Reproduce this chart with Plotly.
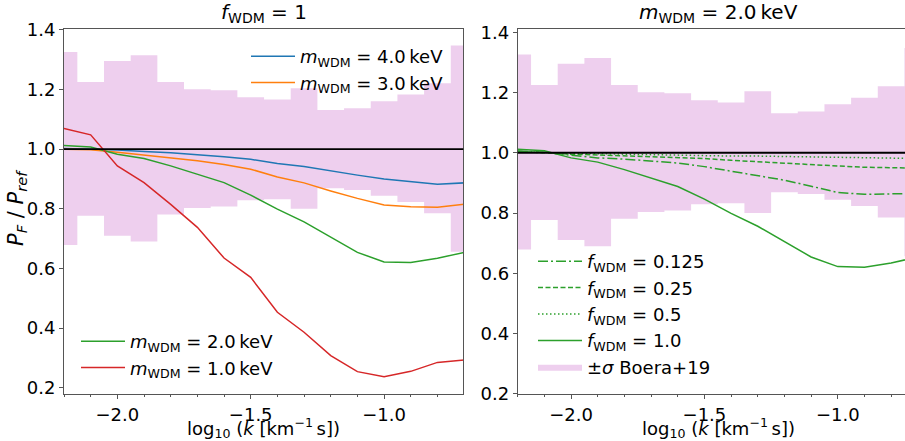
import plotly.graph_objects as go

# ---------------- data ----------------
log_k = [-2.2, -2.1, -2.0, -1.9, -1.8, -1.7, -1.6, -1.5, -1.4, -1.3, -1.2, -1.1, -1.0, -0.9, -0.8, -0.7]

# left panel: f_WDM = 1, various masses
ratio_m4 = [1.002, 1.000, 0.997, 0.992, 0.988, 0.981, 0.975, 0.966, 0.952, 0.942, 0.927, 0.913, 0.900, 0.890, 0.882, 0.887]
ratio_m3 = [1.000, 0.998, 0.990, 0.981, 0.972, 0.961, 0.949, 0.933, 0.907, 0.887, 0.860, 0.835, 0.813, 0.807, 0.805, 0.815]
ratio_m2 = [1.012, 1.007, 0.983, 0.969, 0.944, 0.916, 0.888, 0.846, 0.799, 0.756, 0.704, 0.654, 0.622, 0.620, 0.634, 0.654]
ratio_m1 = [1.069, 1.048, 0.944, 0.888, 0.815, 0.738, 0.635, 0.570, 0.453, 0.386, 0.308, 0.254, 0.237, 0.255, 0.285, 0.293]

# right panel: m_WDM = 2 keV, various fractions
ratio_f0125 = [1.006, 1.002, 0.992, 0.983, 0.979, 0.972, 0.966, 0.954, 0.939, 0.926, 0.909, 0.889, 0.868, 0.862, 0.862, 0.865]
ratio_f025 = [1.005, 1.000, 0.995, 0.993, 0.990, 0.988, 0.986, 0.981, 0.975, 0.970, 0.965, 0.959, 0.956, 0.952, 0.950, 0.949]
ratio_f05 = [1.004, 1.000, 0.998, 0.997, 0.995, 0.993, 0.992, 0.990, 0.989, 0.989, 0.988, 0.986, 0.985, 0.983, 0.982, 0.981]
ratio_f1 = ratio_m2

# Boera+19 +/- sigma band
band_upper = [1.326, 1.225, 1.296, 1.315, 1.225, 1.201, 1.198, 1.174, 1.167, 1.204, 1.131, 1.137, 1.161, 1.183, 1.221, 1.348]
band_lower = [0.679, 0.777, 0.710, 0.690, 0.781, 0.803, 0.808, 0.829, 0.832, 0.800, 0.869, 0.863, 0.844, 0.823, 0.785, 0.656]

# ---------------- styling ----------------
FONT = "DejaVu Sans"
FS = 18
BLUE, ORANGE, GREEN, RED = "#1f77b4", "#ff7f0e", "#2ca02c", "#d62728"
BAND = "rgba(221,160,221,0.5)"
SPINE = "#555555"
LW = 1.5

fig = go.Figure()


def add_band(xa, ya, show, legend=None):
    fig.add_trace(go.Scatter(x=log_k, y=band_lower, mode="lines", line=dict(width=0, shape="hvh"),
                             showlegend=False, hoverinfo="skip", xaxis=xa, yaxis=ya))
    fig.add_trace(go.Scatter(x=log_k, y=band_upper, mode="lines", line=dict(width=0, shape="hvh"),
                             fill="tonexty", fillcolor=BAND, showlegend=show,
                             legend=legend, legendrank=5,
                             name="±<i>σ</i> Boera+19", hoverinfo="skip", xaxis=xa, yaxis=ya))


def mlabel(v):
    return f"<i>m</i><sub>WDM</sub> = {v}\u2009keV"


def flabel(v):
    return f"<i>f</i><sub>WDM</sub> = {v}"


# left panel
add_band("x", "y", False)
fig.add_trace(go.Scatter(x=log_k, y=ratio_m4, mode="lines", line=dict(color=BLUE, width=LW),
                         name=mlabel("4.0"), legend="legend", legendrank=1, xaxis="x", yaxis="y"))
fig.add_trace(go.Scatter(x=log_k, y=ratio_m3, mode="lines", line=dict(color=ORANGE, width=LW),
                         name=mlabel("3.0"), legend="legend", legendrank=2, xaxis="x", yaxis="y"))
fig.add_trace(go.Scatter(x=log_k, y=ratio_m2, mode="lines", line=dict(color=GREEN, width=LW),
                         name=mlabel("2.0"), legend="legend2", legendrank=1, xaxis="x", yaxis="y"))
fig.add_trace(go.Scatter(x=log_k, y=ratio_m1, mode="lines", line=dict(color=RED, width=LW),
                         name=mlabel("1.0"), legend="legend2", legendrank=2, xaxis="x", yaxis="y"))

# right panel
add_band("x2", "y2", True, "legend3")
fig.add_trace(go.Scatter(x=log_k, y=ratio_f0125, mode="lines",
                         line=dict(color=GREEN, width=LW, dash="10px,3px,2px,3px"),
                         name=flabel("0.125"), legend="legend3", legendrank=1, xaxis="x2", yaxis="y2"))
fig.add_trace(go.Scatter(x=log_k, y=ratio_f025, mode="lines",
                         line=dict(color=GREEN, width=LW, dash="5px,2.5px"),
                         name=flabel("0.25"), legend="legend3", legendrank=2, xaxis="x2", yaxis="y2"))
fig.add_trace(go.Scatter(x=log_k, y=ratio_f05, mode="lines",
                         line=dict(color=GREEN, width=LW, dash="1.5px,2.5px"),
                         name=flabel("0.5"), legend="legend3", legendrank=3, xaxis="x2", yaxis="y2"))
fig.add_trace(go.Scatter(x=log_k, y=ratio_f1, mode="lines",
                         line=dict(color=GREEN, width=LW),
                         name=flabel("1.0"), legend="legend3", legendrank=4, xaxis="x2", yaxis="y2"))

# reference lines at 1
for xr, yr in (("x", "y"), ("x2", "y2")):
    fig.add_shape(type="line", xref=f"{xr} domain", x0=0, x1=1, yref=yr, y0=1, y1=1,
                  line=dict(color="black", width=1.8), layer="above")

W, H = 905, 441
Y_DOM = [1 - 394.3 / H, 1 - 29.3 / H]

xcommon = dict(showline=True, linecolor=SPINE, linewidth=1, ticks="outside", ticklen=4,
               tickcolor=SPINE, tickfont=dict(family=FONT, size=FS, color="black"),
               showgrid=False, zeroline=False, dtick=0.5, tick0=0, tickformat=".1f",
               minor=dict(dtick=0.1, tick0=0, ticks="outside", ticklen=2, tickcolor=SPINE))
ycommon = dict(showline=True, linecolor=SPINE, linewidth=1, ticks="outside", ticklen=4,
               tickcolor=SPINE, tickfont=dict(family=FONT, size=FS, color="black"),
               showgrid=False, zeroline=False, dtick=0.2, tick0=0, tickformat=".1f")

leg_common = dict(bgcolor="rgba(0,0,0,0)", font=dict(family=FONT, size=FS), traceorder="normal",
                  itemwidth=44)

fig.update_layout(
    width=W, height=H,
    margin=dict(l=0, r=0, t=0, b=0, autoexpand=False),
    paper_bgcolor="white", plot_bgcolor="white",
    font=dict(family=FONT, size=FS, color="black"),
    xaxis=dict(domain=[64 / W, 463.3 / W], range=[-2.2, -0.703], anchor="y", mirror=True, **xcommon),
    yaxis=dict(domain=Y_DOM, range=[0.178, 1.402], anchor="x", mirror=True, **ycommon),
    xaxis2=dict(domain=[517.7 / W, 1.0], range=[-2.2, -0.748], anchor="y2", mirror=True, **xcommon),
    yaxis2=dict(domain=Y_DOM, range=[0.198, 1.41], anchor="x2", mirror=False, **ycommon),
    legend=dict(x=449 / W, xanchor="right", y=1 - 38 / H, yanchor="top", **leg_common),
    legend2=dict(x=76 / W, xanchor="left", y=1 - 386 / H, yanchor="bottom", **leg_common),
    legend3=dict(x=533 / W, xanchor="left", y=1 - 243 / H, yanchor="top", **leg_common),
    showlegend=True,
)

ann = []
ann.append(dict(text="<i>f</i><sub>WDM</sub> = 1", x=263.7 / W, y=1 - 28 / H, xref="paper", yref="paper",
                xanchor="center", yanchor="bottom", showarrow=False, font=dict(family=FONT, size=20)))
ann.append(dict(text="<i>m</i><sub>WDM</sub> = 2.0\u2009keV", x=718 / W, y=1 - 28 / H, xref="paper", yref="paper",
                xanchor="center", yanchor="bottom", showarrow=False, font=dict(family=FONT, size=20)))
xl = "log<sub>10</sub> (<i>k</i> [km<sup>\u22121</sup>\u2009s])"
ann.append(dict(text=xl, x=263.7 / W, y=1 - 428 / H, xref="paper", yref="paper",
                xanchor="center", yanchor="middle", showarrow=False, font=dict(family=FONT, size=18)))
ann.append(dict(text=xl, x=718 / W, y=1 - 428 / H, xref="paper", yref="paper",
                xanchor="center", yanchor="middle", showarrow=False, font=dict(family=FONT, size=18)))
ann.append(dict(text="<i>P<sub>F</sub></i> / <i>P<sub>ref</sub></i>", x=17 / W, y=1 - 208 / H,
                xref="paper", yref="paper", xanchor="center", yanchor="middle", textangle=-90,
                showarrow=False, font=dict(family=FONT, size=21)))
fig.update_layout(annotations=ann)

fig.write_html("out.html", config={"displayModeBar": False},
               post_script="document.body.style.margin='0';document.body.style.overflow='hidden';")
